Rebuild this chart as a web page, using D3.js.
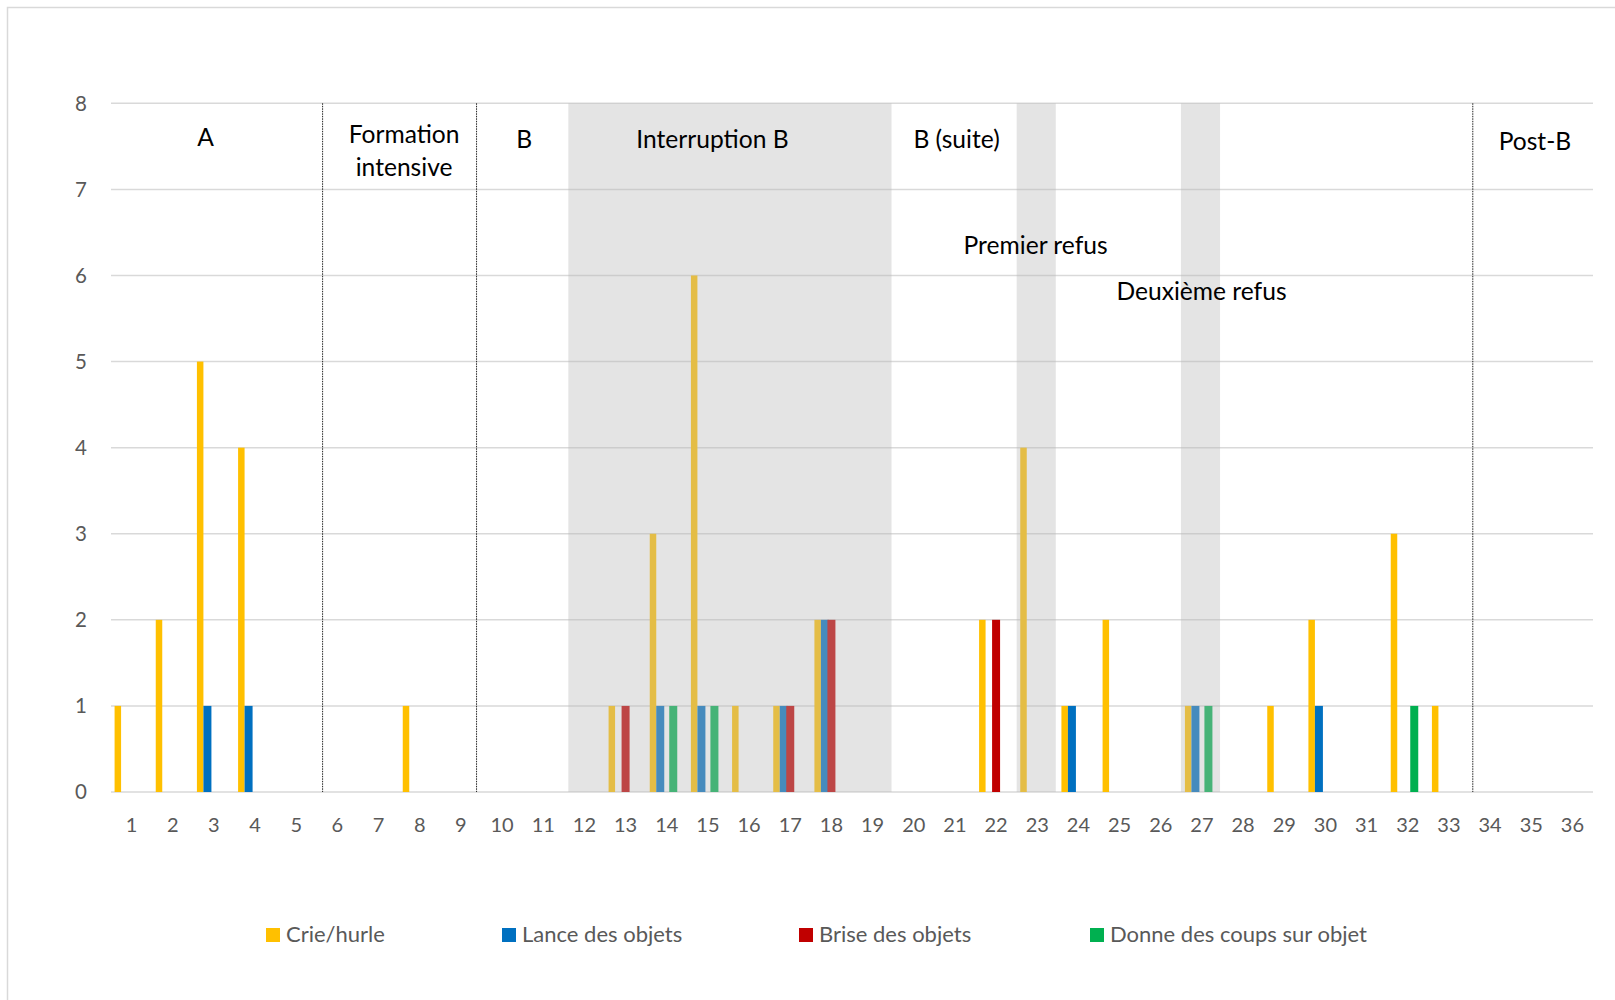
<!DOCTYPE html>
<html>
<head>
<meta charset="utf-8">
<script src="https://cdn.jsdelivr.net/npm/d3@7"></script>
<style>
  html, body { margin: 0; padding: 0; background: #fff; }
  svg { display: block; }
  text { font-family: Lato, "Open Sans", sans-serif; }
</style>
</head>
<body>
<svg id="chart" width="1615" height="1000"></svg>
<script>
// Sessions 1..36
const sessions = d3.range(1, 37).map(String);

// Behaviour series (counts per session)
const seriesNames = ["Crie/hurle", "Lance des objets", "Brise des objets", "Donne des coups sur objet"];
const seriesColors = ["#FFC000", "#0070C0", "#C00000", "#00B050"];

const crieHurle    = [1,2,5,4,0,0,0,1,0,0,0,0,1,3,6,1,1,2,0,0,0,2,4,1,2,0,1,0,1,2,0,3,1,0,0,0];
const lanceObjets  = [0,0,1,1,0,0,0,0,0,0,0,0,0,1,1,0,1,2,0,0,0,0,0,1,0,0,1,0,0,1,0,0,0,0,0,0];
const briseObjets  = [0,0,0,0,0,0,0,0,0,0,0,0,1,0,0,0,1,2,0,0,0,2,0,0,0,0,0,0,0,0,0,0,0,0,0,0];
const donneCoups   = [0,0,0,0,0,0,0,0,0,0,0,0,0,1,1,0,0,0,0,0,0,0,0,0,0,0,1,0,0,0,0,1,0,0,0,0];
const seriesValues = [crieHurle, lanceObjets, briseObjets, donneCoups];

const yTicks = [0,1,2,3,4,5,6,7,8];

// Shaded periods (first session, last session)
const shadedPeriods = [["12", "19"], ["23", "23"], ["27", "27"]];
// Dotted phase separators (placed after these sessions)
const separators = ["5", "9", "33"];

// Phase captions: text lines, anchor in session units and count units
const captions = [
  { lines: ["A"], u: 2.30, v: 7.50 },
  { lines: ["Formation", "intensive"], u: 7.12, v: 7.54 },
  { lines: ["B"], u: 10.04, v: 7.48 },
  { lines: ["Interruption B"], u: 14.61, v: 7.48 },
  { lines: ["B (suite)"], u: 20.54, v: 7.48 },
  { lines: ["Premier refus"], u: 22.46, v: 6.25 },
  { lines: ["Deuxième refus"], u: 26.49, v: 5.715 },
  { lines: ["Post-B"], u: 34.59, v: 7.455 }
];

const svg = d3.select("#chart");
const W = 1615, H = 1000;
const plot = { left: 111, right: 1593, top: 103.3, bottom: 792 };

// chart frame
svg.append("rect")
  .attr("x", 7.5).attr("y", 7.5)
  .attr("width", W + 10).attr("height", H + 10)
  .attr("fill", "#fff").attr("stroke", "#D9D9D9").attr("stroke-width", 1.5);

const x = d3.scaleBand().domain(sessions).range([plot.left, plot.right]).padding(0);
const step = x.step();
const xu = d3.scaleLinear().domain([0, sessions.length]).range([plot.left, plot.right]);
const y = d3.scaleLinear().domain([0, 8]).range([plot.bottom, plot.top]);

// offsets of each series inside a session slot, relative to slot centre
const xs = d3.scaleBand().domain(seriesNames).range([-17, 9]).padding(0);

// gridlines
svg.append("g")
  .selectAll("line").data(yTicks).join("line")
  .attr("x1", plot.left).attr("x2", plot.right)
  .attr("y1", d => y(d)).attr("y2", d => y(d))
  .attr("stroke", "#D9D9D9").attr("stroke-width", 1.5);

// y tick labels
svg.append("g")
  .selectAll("text").data(yTicks).join("text")
  .attr("x", plot.left - 24).attr("y", d => y(d))
  .attr("dy", "0.36em")
  .attr("text-anchor", "end")
  .attr("font-size", 20.5).attr("fill", "#595959")
  .text(d => d);

// x tick labels
svg.append("g")
  .selectAll("text").data(sessions).join("text")
  .attr("x", d => x(d) + step / 2).attr("y", plot.bottom + 40)
  .attr("text-anchor", "middle")
  .attr("font-size", 20).attr("fill", "#595959")
  .text(d => d);

// bars
const barData = [];
seriesNames.forEach((s, si) => {
  sessions.forEach((c, ci) => {
    const v = seriesValues[si][ci];
    if (v > 0) barData.push({ s, si, c, v });
  });
});
svg.append("g")
  .selectAll("rect").data(barData).join("rect")
  .attr("x", d => x(d.c) + step / 2 + xs(d.s))
  .attr("width", d => d.si === 0 ? xs.bandwidth() : 8)
  .attr("y", d => y(d.v))
  .attr("height", d => y(0) - y(d.v))
  .attr("fill", d => seriesColors[d.si]);

// translucent shading over the refusal / interruption periods
const shadeInsets = [[0.11, -0.04], [0.0, -0.05], [-0.01, -0.06]];
svg.append("g")
  .selectAll("rect").data(shadedPeriods).join("rect")
  .attr("x", (d, i) => x(d[0]) + shadeInsets[i][0] * step)
  .attr("width", (d, i) => x(d[1]) + step + shadeInsets[i][1] * step - (x(d[0]) + shadeInsets[i][0] * step))
  .attr("y", y(8))
  .attr("height", y(0) - y(8))
  .attr("fill", "rgb(184,184,184)")
  .attr("fill-opacity", 0.38);

// dotted phase separators
const sepShift = [0.14, -0.12, 0.08];
svg.append("g")
  .selectAll("line").data(separators).join("line")
  .attr("x1", (d, i) => x(d) + step + sepShift[i] * step)
  .attr("x2", (d, i) => x(d) + step + sepShift[i] * step)
  .attr("y1", y(8)).attr("y2", y(0))
  .attr("stroke", "#222").attr("stroke-width", 1)
  .attr("stroke-dasharray", "1.5,1");

// phase captions
const cap = svg.append("g");
captions.forEach(c => {
  const t = cap.append("text")
    .attr("x", xu(c.u)).attr("y", y(c.v))
    .attr("text-anchor", "middle")
    .attr("font-size", 24.6).attr("fill", "#000");
  c.lines.forEach((ln, i) => {
    t.append("tspan").attr("x", xu(c.u)).attr("dy", i === 0 ? 0 : 33).text(ln);
  });
});

// legend
const legendX = [266, 502, 799, 1090];
const lg = svg.append("g");
seriesNames.forEach((s, i) => {
  lg.append("rect")
    .attr("x", legendX[i]).attr("y", 928)
    .attr("width", 14).attr("height", 14)
    .attr("fill", seriesColors[i]);
  lg.append("text")
    .attr("x", legendX[i] + 20).attr("y", 942)
    .attr("font-size", 22).attr("fill", "#595959")
    .text(s);
});
</script>
</body>
</html>
